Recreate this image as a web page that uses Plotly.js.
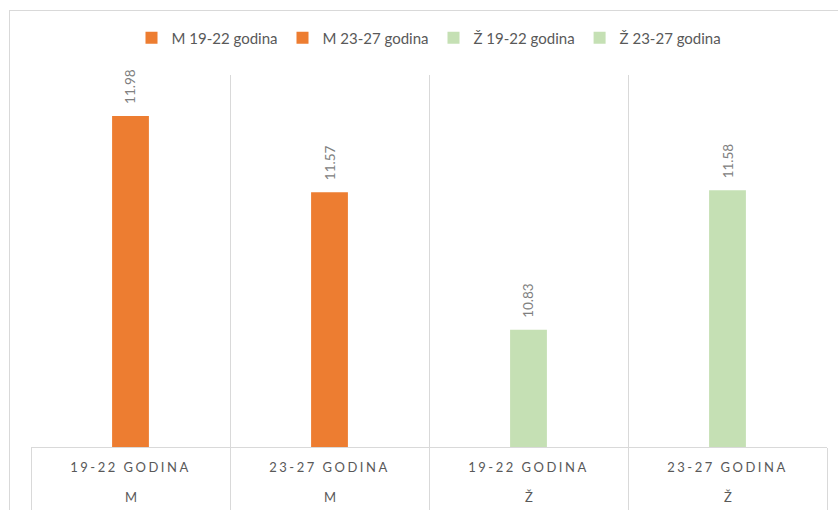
<!DOCTYPE html>
<html>
<head>
<meta charset="utf-8">
<script src="https://cdn.plot.ly/plotly-3.0.1.min.js"></script>
<style>
  html, body { margin: 0; padding: 0; background: #fff; }
  #wrap { position: relative; width: 838px; height: 510px; overflow: hidden; }
  #chart { position: absolute; left: 0; top: 0; width: 838px; height: 510px; }
  #frame { position: absolute; left: 9px; top: 10px; width: 900px; height: 600px;
           border: 1px solid #d9d9d9; pointer-events: none; }
  #chart .xtick text { letter-spacing: 2.5px; }
</style>
</head>
<body>
<div id="wrap">
  <div id="chart"></div>
  <div id="frame"></div>
</div>
<script>
const seriesNames = ['M 19-22 godina', 'M 23-27 godina', 'Ž 19-22 godina', 'Ž 23-27 godina'];
const ageLabels = ['19-22 GODINA', '23-27 GODINA', '19-22 GODINA', '23-27 GODINA'];
const sexLabels = ['M', 'M', 'Ž', 'Ž'];
const values = [11.98, 11.57, 10.83, 11.58];
const colors = ['#ED7D31', '#ED7D31', '#C5E0B4', '#C5E0B4'];

const FONT = 'Lato, "Open Sans", sans-serif';

const traces = seriesNames.map((n, i) => ({
  type: 'bar',
  name: n,
  x: [n],
  y: [values[i]],
  width: 0.185,
  marker: { color: colors[i] },
  hoverinfo: 'name+y'
}));

const annotations = [];
seriesNames.forEach((n, i) => {
  annotations.push({
    x: n, y: values[i], xref: 'x', yref: 'y',
    text: values[i].toFixed(2), textangle: -90,
    showarrow: false, yanchor: 'bottom', xanchor: 'center', yshift: 10,
    font: { family: FONT, size: 13.5, color: '#808080' }
  });
  annotations.push({
    x: n, y: -0.1344, xref: 'x', yref: 'paper',
    text: sexLabels[i], showarrow: false, yanchor: 'middle', xanchor: 'center',
    font: { family: FONT, size: 13, color: '#595959' }
  });
});

const layout = {
  width: 838, height: 510,
  margin: { l: 31, r: 11, t: 75, b: 63, pad: 0 },
  paper_bgcolor: 'rgba(0,0,0,0)',
  plot_bgcolor: 'rgba(0,0,0,0)',
  barmode: 'overlay',
  showlegend: true,
  legend: {
    orientation: 'h', x: 0.5, xanchor: 'center', y: 1.0995, yanchor: 'middle',
    font: { family: FONT, size: 15, color: '#595959' },
    itemwidth: 30, traceorder: 'normal'
  },
  xaxis: {
    type: 'category',
    tickmode: 'array', tickvals: seriesNames, ticktext: ageLabels,
    tickson: 'boundaries',
    showgrid: true, gridcolor: '#d9d9d9', gridwidth: 1,
    showline: true, linecolor: '#d9d9d9', linewidth: 1,
    ticks: 'outside', ticklen: 63, tickcolor: '#d9d9d9', tickwidth: 1,
    ticklabelstandoff: 8,
    tickfont: { family: FONT, size: 13, color: '#595959' },
    range: [-0.5, 3.5], fixedrange: true
  },
  yaxis: {
    range: [10.2, 12.2], visible: false, showgrid: false, zeroline: false, fixedrange: true
  },
  annotations: annotations,
  font: { family: FONT }
};

Plotly.newPlot('chart', traces, layout, { displayModeBar: false, staticPlot: true });
</script>
</body>
</html>
